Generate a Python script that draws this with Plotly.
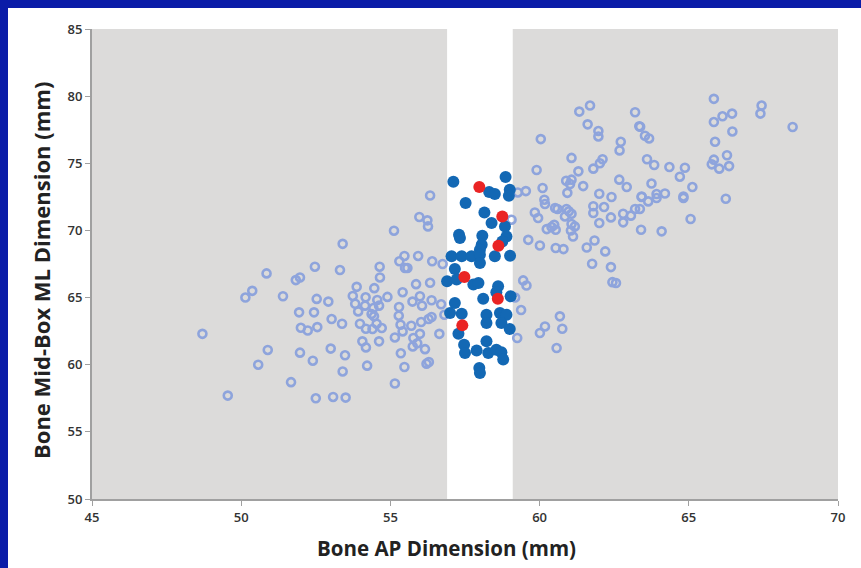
import plotly.graph_objects as go

# Open circles (all bones)
open_x = [
    48.70, 49.55, 50.85, 51.83, 51.97, 52.47, 50.37, 50.14, 51.40, 52.53, 52.92, 51.94, 52.44, 53.03,
    52.00, 52.23, 52.55, 50.89, 50.57, 51.97, 52.40, 53.00, 51.67, 52.50, 53.08, 53.50,
    55.97, 56.24, 56.26, 55.12, 53.40, 53.31, 55.47, 55.30, 55.49, 55.57, 55.93, 56.40, 56.75,
    54.64, 54.65, 53.87, 54.46, 55.86, 56.33, 55.41,
    53.74, 54.17, 54.56, 54.90, 53.82, 54.15, 53.92, 54.43, 54.62, 54.37, 54.45,
    55.74, 55.99, 56.06, 56.38, 56.70, 55.29, 55.28, 53.38,
    53.98, 54.18, 54.40, 54.54, 54.71,
    55.34, 55.41, 55.70, 55.99, 56.03, 56.28, 56.38, 56.81, 56.64,
    55.15, 55.77, 55.90, 55.75, 56.16, 54.06, 54.18, 54.62, 53.48, 55.35,
    54.22, 55.47, 56.21, 56.29, 53.40, 55.15, 56.33,
    61.61, 61.97, 61.97, 63.34, 62.72, 62.68, 60.04, 61.07, 61.80, 62.02, 62.11, 59.90, 61.30,
    60.89, 61.07, 61.02, 61.46, 62.67, 62.92, 60.10, 59.27, 59.54, 60.93, 62.00, 62.41, 63.42,
    60.16, 60.18, 61.80, 62.16, 59.84, 59.95,
    60.52, 60.60, 60.90, 60.98, 61.07, 60.85, 61.80, 62.00, 62.39,
    62.80, 62.80, 63.06, 63.20, 63.36, 59.06,
    60.24, 60.40, 60.49, 60.54, 61.07, 61.18, 61.05, 61.12, 63.40,
    59.62, 60.01, 60.54, 60.80, 61.58, 61.84, 62.20, 61.76, 62.39, 62.44, 62.56,
    59.45, 59.56, 59.18, 59.38, 60.68, 60.76, 60.01, 60.18, 59.25, 60.57,
    61.69, 61.33,
    65.84, 67.44, 67.40, 66.13, 65.84, 66.45, 68.48, 66.46, 63.20, 63.37, 63.53, 63.67, 65.88,
    63.60, 63.84, 64.35, 64.87, 64.70, 65.84, 65.77, 66.02, 66.28, 66.35, 63.75,
    63.42, 63.64, 63.92, 63.92, 64.20, 64.82, 64.82, 65.12, 66.24, 65.06, 64.09,
]
open_y = [
    62.30, 57.70, 66.80, 66.30, 66.50, 67.30, 65.50, 65.00, 65.10, 64.90, 64.70, 63.90, 63.90, 63.40,
    62.75, 62.55, 62.80, 61.10, 60.00, 60.90, 60.30, 61.20, 58.70, 57.50, 57.60, 57.55,
    71.00, 70.75, 70.30, 69.98, 69.00, 67.05, 68.10, 67.70, 67.20, 67.20, 68.10, 67.70, 67.50,
    67.30, 66.50, 65.80, 65.70, 66.00, 66.10, 65.40,
    65.12, 65.02, 64.82, 65.05, 64.54, 64.40, 63.97, 64.22, 64.40, 63.78, 63.60,
    64.70, 65.10, 64.40, 64.80, 64.50, 64.30, 63.65, 63.05,
    63.05, 62.68, 62.66, 63.05, 62.73,
    62.98, 62.48, 62.90, 62.30, 63.18, 63.40, 63.55, 63.72, 62.30,
    62.03, 61.99, 61.60, 61.36, 61.16, 61.74, 61.29, 61.74, 60.70, 60.85,
    59.93, 59.83, 60.08, 60.20, 59.50, 58.60, 72.60,
    77.90, 77.40, 77.00, 77.75, 76.60, 75.96, 76.80, 75.40, 74.60, 75.00, 75.30, 74.50, 74.40,
    73.70, 73.78, 73.46, 73.30, 73.78, 73.23, 73.16, 72.83, 72.93, 72.80, 72.73, 72.49, 72.49,
    72.29, 71.97, 71.80, 71.74, 71.34, 70.92,
    71.67, 71.60, 71.60, 71.42, 71.24, 71.04, 71.30, 70.55, 70.97,
    71.24, 70.60, 71.10, 71.60, 71.60, 70.80,
    70.10, 70.25, 70.42, 70.05, 70.48, 70.30, 70.00, 69.55, 70.05,
    69.30, 68.88, 68.69, 68.61, 68.73, 69.25, 68.44, 67.52, 67.27, 66.15, 66.08,
    66.28, 65.90, 65.00, 64.07, 63.60, 62.68, 62.36, 62.85, 61.99, 61.24,
    79.30, 78.85,
    79.80, 79.30, 78.70, 78.50, 78.07, 78.70, 77.70, 77.37, 78.80, 77.72, 77.05, 76.85, 76.60,
    75.30, 74.87, 74.72, 74.67, 74.00, 75.27, 74.92, 74.60, 75.60, 74.79, 73.49,
    72.53, 72.16, 72.71, 72.41, 72.75, 72.53, 72.41, 73.23, 72.36, 70.85, 69.93,
]

# Filled blue circles (selected range)
sel_x = [
    57.11, 58.86, 59.00, 58.97, 58.31, 58.50, 57.52, 58.15, 58.39, 58.84, 58.89, 58.75,
    57.30, 57.33, 58.08, 58.06, 58.00, 57.05, 57.39, 57.72, 58.00, 58.50, 59.01, 58.00,
    57.16, 56.90, 57.22, 57.78, 57.95, 58.61, 58.55, 58.11, 59.03, 57.16, 57.00, 57.39,
    58.22, 58.22, 58.67, 58.89, 58.72, 59.00, 57.28, 57.47, 57.50, 57.89,
    58.22, 58.28, 58.55, 58.72, 58.78, 57.98, 58.00,
]
sel_y = [
    73.63, 73.98, 73.03, 72.58, 72.86, 72.71, 72.04, 71.34, 70.55, 70.29, 69.55, 69.18,
    69.68, 69.43, 69.60, 68.93, 68.56, 68.07, 68.07, 68.07, 68.19, 68.07, 68.12, 67.57,
    67.13, 66.22, 66.35, 65.97, 66.09, 65.85, 65.40, 64.91, 65.10, 64.60, 63.85, 63.80,
    63.72, 63.10, 63.85, 63.72, 63.10, 62.66, 62.31, 61.49, 60.87, 61.06,
    61.74, 60.87, 61.12, 60.92, 60.38, 59.76, 59.38,
]

# Red highlighted circles
red_x = [57.98, 58.75, 58.62, 57.48, 58.60, 57.41]
red_y = [73.23, 71.04, 68.86, 66.53, 64.92, 62.93]

x_ticks = [45, 50, 55, 60, 65, 70]
y_ticks = [50, 55, 60, 65, 70, 75, 80, 85]
band_lo, band_hi = 56.9, 59.1
x_range = [45, 70]
y_range = [50, 85]

fig = go.Figure()
fig.add_trace(go.Scatter(
    x=open_x, y=open_y, mode="markers",
    marker=dict(symbol="circle-open", size=8, color="#8ea4dc", line=dict(width=2.6, color="#8ea4dc")),
    hoverinfo="skip"))
fig.add_trace(go.Scatter(
    x=sel_x, y=sel_y, mode="markers",
    marker=dict(symbol="circle", size=12, color="#1368b4"),
    hoverinfo="skip"))
fig.add_trace(go.Scatter(
    x=red_x, y=red_y, mode="markers",
    marker=dict(symbol="circle", size=12, color="#ea2424"),
    hoverinfo="skip"))

L, R, T, B = 92, 23, 29, 69
W, H = 861, 568
pw, ph = W - L - R, H - T - B

def px_x(p):
    return (p - L) / pw

def px_y(p):
    return (H - B - p) / ph

frame_blue = "#0a1ca8"
shapes = [
    # blue frame strips (left and top)
    dict(type="rect", xref="paper", yref="paper", layer="below",
         x0=px_x(-2), x1=px_x(8), y0=px_y(H + 2), y1=px_y(-2),
         fillcolor=frame_blue, line=dict(width=0)),
    dict(type="rect", xref="paper", yref="paper", layer="below",
         x0=px_x(-2), x1=px_x(W + 2), y0=px_y(8), y1=px_y(-2),
         fillcolor=frame_blue, line=dict(width=0)),
    # keep right edge white
    dict(type="rect", xref="paper", yref="paper", layer="above",
         x0=px_x(W - 12), x1=px_x(W + 4), y0=px_y(H + 4), y1=px_y(8),
         fillcolor="white", line=dict(width=0)),
    dict(type="rect", xref="x", yref="y", layer="below",
         x0=x_range[0], x1=band_lo, y0=y_range[0], y1=y_range[1],
         fillcolor="#dcdbda", line=dict(width=0)),
    dict(type="rect", xref="x", yref="y", layer="below",
         x0=band_hi, x1=x_range[1], y0=y_range[0], y1=y_range[1],
         fillcolor="#dcdbda", line=dict(width=0)),
]

tickfont = dict(family="Open Sans", size=13, color="#333333", weight=600)
fig.update_layout(
    width=W, height=H,
    margin=dict(l=L, r=R, t=T, b=B),
    paper_bgcolor="white",
    plot_bgcolor="white",
    showlegend=False,
    shapes=shapes,
    xaxis=dict(range=x_range, tickvals=x_ticks, showgrid=False, zeroline=False,
               showline=True, linecolor="#a0a0a0", linewidth=2,
               ticks="outside", ticklen=5, tickcolor="#a0a0a0", tickwidth=1,
               tickfont=tickfont),
    yaxis=dict(range=y_range, tickvals=y_ticks, showgrid=False, zeroline=False,
               showline=True, linecolor="#a0a0a0", linewidth=2,
               ticks="outside", ticklen=5, tickcolor="#a0a0a0", tickwidth=1,
               tickfont=tickfont),
    annotations=[
        dict(text="Bone AP Dimension (mm)", xref="paper", yref="paper",
             x=px_x(446), y=px_y(548), xanchor="center", yanchor="middle",
             showarrow=False, font=dict(family="Open Sans", size=20.5, color="#222222", weight=700)),
        dict(text="Bone Mid-Box ML Dimension (mm)", xref="paper", yref="paper",
             x=px_x(41), y=px_y(271), xanchor="center", yanchor="middle",
             textangle=-90,
             showarrow=False, font=dict(family="Open Sans", size=22, color="#222222", weight=700)),
    ],
)

fig.write_html("out.html")
